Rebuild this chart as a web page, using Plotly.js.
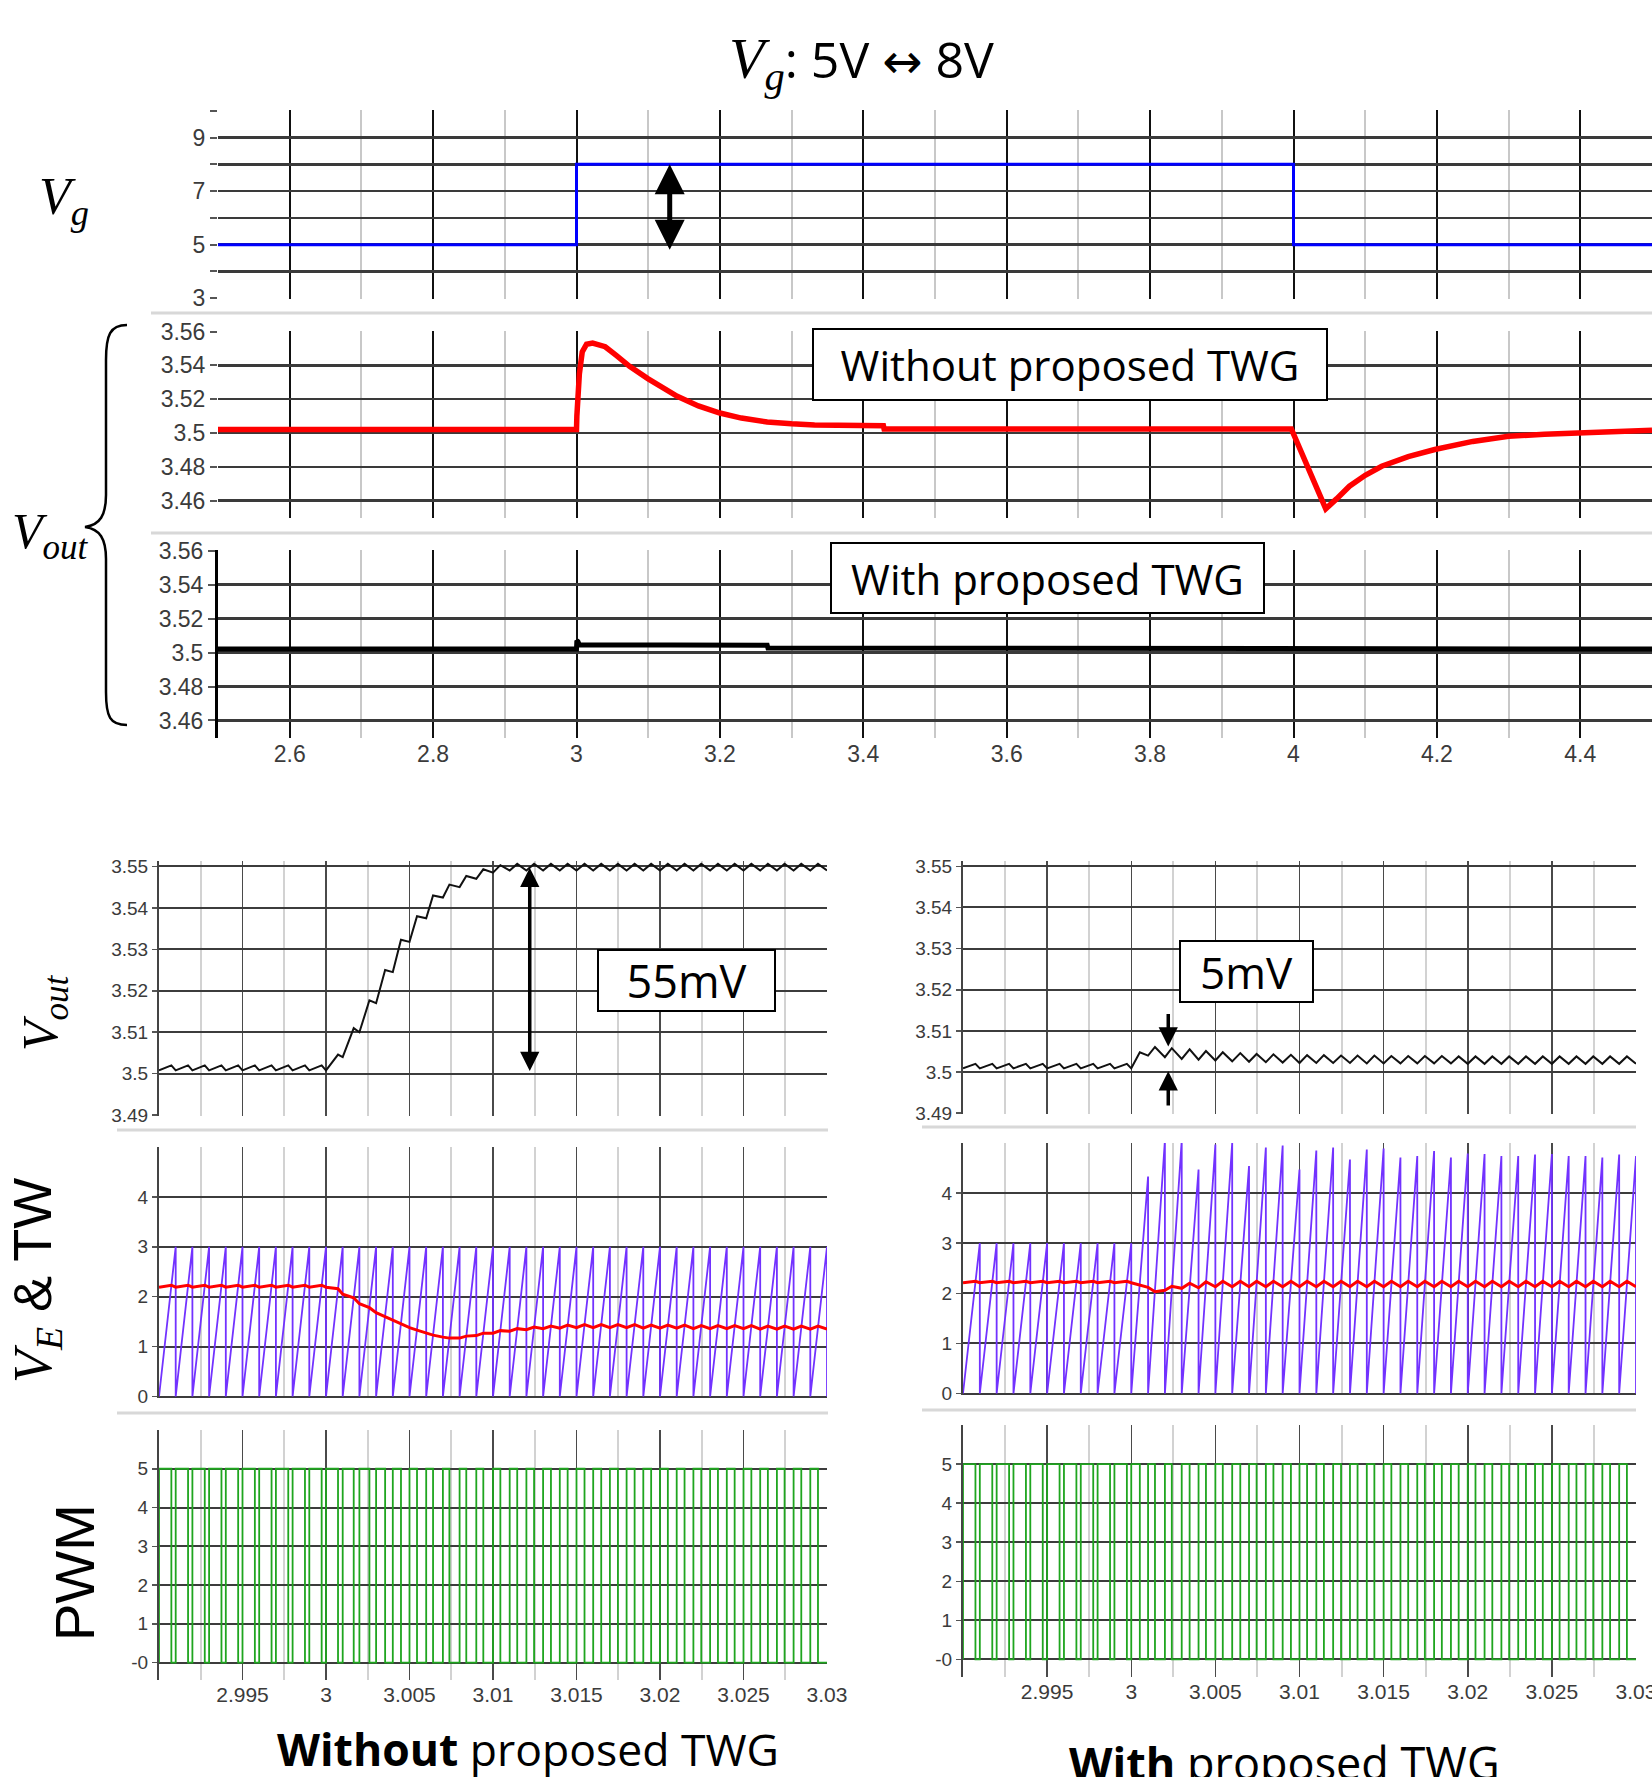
<!DOCTYPE html>
<html><head><meta charset="utf-8">
<script src="https://cdn.plot.ly/plotly-3.0.1.min.js"></script>
<style>html,body{margin:0;padding:0;background:#fff}#chart{width:1652px;height:1777px}</style>
</head><body><div id="chart"></div>
<script>
// ---------------- DATA ----------------
// Top: input voltage step
const vgT = [2.5, 3.0, 3.0, 4.0, 4.0, 4.5];
const vgV = [5, 5, 8, 8, 5, 5];
// Top: Vout without proposed TWG
const voutNoT = [2.5, 3.0, 3.0005, 3.004, 3.008, 3.014, 3.0225, 3.04, 3.055, 3.074, 3.10, 3.1405, 3.17, 3.2, 3.23, 3.266, 3.30, 3.332, 3.428, 3.429, 3.997, 4.045, 4.06, 4.078, 4.10, 4.123, 4.16, 4.197, 4.25, 4.30, 4.35, 4.396, 4.492, 4.5];
const voutNoV = [3.502, 3.502, 3.510, 3.535, 3.548, 3.5525, 3.5532, 3.551, 3.546, 3.5394, 3.532, 3.5217, 3.516, 3.5118, 3.5088, 3.5065, 3.5054, 3.5047, 3.5043, 3.5024, 3.5024, 3.4551, 3.461, 3.4685, 3.475, 3.4803, 3.486, 3.4902, 3.495, 3.498, 3.4993, 3.500, 3.5016, 3.5016];
// Top: Vout with proposed TWG
const voutTwgT = [2.5, 3.0, 3.0005, 3.002, 3.004, 3.266, 3.267, 3.997, 3.998, 4.5];
const voutTwgV = [3.502, 3.502, 3.507, 3.5065, 3.5045, 3.5042, 3.5027, 3.5027, 3.5020, 3.5020];

// Bottom: switching-cycle start times (s)
const cycleT = [2.990,2.991,2.992,2.993,2.994,2.995,2.996,2.997,2.998,2.999,3.000,3.001,3.002,3.003,3.004,3.005,3.006,3.007,3.008,3.009,3.010,3.011,3.012,3.013,3.014,3.015,3.016,3.017,3.018,3.019,3.020,3.021,3.022,3.023,3.024,3.025,3.026,3.027,3.028,3.029,3.030];

// Left column (without proposed TWG), one value per switching cycle
const twPeakL = [3,3,3,3,3,3,3,3,3,3, 3,3,3,3,3,3,3,3,3,3, 3,3,3,3,3,3,3,3,3,3, 3,3,3,3,3,3,3,3,3,3];
const veStartL = [2.19,2.19,2.19,2.19,2.19,2.19,2.19,2.19,2.19,2.19, 2.19,2.05,1.86,1.68,1.52,1.38,1.27,1.19,1.17,1.22, 1.27,1.31,1.34,1.36,1.37,1.38,1.38,1.38,1.38,1.37, 1.37,1.37,1.36,1.36,1.36,1.36,1.35,1.35,1.35,1.35];
const veOnL = [2.23,2.23,2.23,2.23,2.23,2.23,2.23,2.23,2.23,2.23, 2.16,1.98,1.78,1.60,1.46,1.33,1.23,1.17,1.21,1.27, 1.32,1.36,1.39,1.41,1.43,1.44,1.44,1.44,1.44,1.43, 1.43,1.43,1.42,1.42,1.42,1.42,1.41,1.41,1.41,1.41];
const dutyL = [0.74,0.74,0.74,0.74,0.74,0.74,0.74,0.74,0.74,0.74, 0.72,0.66,0.60,0.54,0.49,0.45,0.41,0.39,0.40,0.42, 0.44,0.45,0.46,0.47,0.47,0.48,0.48,0.48,0.48,0.47, 0.47,0.47,0.47,0.47,0.47,0.47,0.46,0.46,0.46,0.46];
const voutMinL = [3.5008,3.5008,3.5008,3.5008,3.5008,3.5008,3.5008,3.5008,3.5008,3.5008, 3.5008,3.5040,3.5100,3.5170,3.5245,3.5318,3.5375,3.5425,3.5450,3.5470, 3.5485,3.5490,3.5490,3.5490,3.5490,3.5490,3.5490,3.5490,3.5490,3.5490, 3.5490,3.5490,3.5490,3.5490,3.5490,3.5490,3.5490,3.5490,3.5490,3.5490];
const voutMaxL = [3.5020,3.5020,3.5020,3.5020,3.5020,3.5020,3.5020,3.5020,3.5020,3.5020, 3.5046,3.5110,3.5177,3.5250,3.5323,3.5380,3.5430,3.5456,3.5477,3.5493, 3.5503,3.5506,3.5506,3.5506,3.5506,3.5506,3.5506,3.5506,3.5506,3.5506, 3.5506,3.5506,3.5506,3.5506,3.5506,3.5506,3.5506,3.5506,3.5506,3.5506];

// Right column (with proposed TWG)
const twPeakR = [3,3,3,3,3,3,3,3,3,3, 4.33,5.05,5.05,4.47,4.97,5.0,4.54,4.91,4.95,4.47, 4.85,4.91,4.67,4.87,4.89,4.71,4.74,4.84,4.71,4.79, 4.78,4.74,4.74,4.77,4.78,4.74,4.74,4.71,4.77,4.74];
const veStartR = [2.21,2.21,2.21,2.21,2.21,2.21,2.21,2.21,2.21,2.21, 2.21,2.12,2.06,2.10,2.11,2.13,2.13,2.13,2.13,2.13, 2.13,2.13,2.13,2.13,2.13,2.13,2.13,2.13,2.13,2.13, 2.13,2.13,2.13,2.13,2.13,2.13,2.13,2.13,2.13,2.13];
const veOnR = [2.24,2.24,2.24,2.24,2.24,2.24,2.24,2.24,2.24,2.24, 2.17,2.03,2.14,2.20,2.23,2.24,2.24,2.24,2.24,2.24, 2.24,2.24,2.24,2.24,2.24,2.24,2.24,2.24,2.24,2.24, 2.24,2.24,2.24,2.24,2.24,2.24,2.24,2.24,2.24,2.24];
const dutyR = [0.74,0.74,0.74,0.74,0.74,0.74,0.74,0.74,0.74,0.74, 0.51,0.41,0.41,0.47,0.44,0.44,0.48,0.45,0.45,0.49, 0.45,0.45,0.47,0.45,0.45,0.46,0.46,0.45,0.46,0.46, 0.46,0.46,0.46,0.46,0.46,0.46,0.46,0.46,0.46,0.46];
const voutMinR = [3.5009,3.5009,3.5009,3.5009,3.5009,3.5009,3.5009,3.5009,3.5009,3.5009, 3.5009,3.5040,3.5036,3.5032,3.5030,3.5028,3.5026,3.5025,3.5024,3.5023, 3.5022,3.5022,3.5022,3.5022,3.5021,3.5021,3.5021,3.5021,3.5021,3.5021, 3.5020,3.5020,3.5020,3.5020,3.5020,3.5020,3.5020,3.5020,3.5020,3.5020];
const voutMaxR = [3.5020,3.5020,3.5020,3.5020,3.5020,3.5020,3.5020,3.5020,3.5020,3.5020, 3.5048,3.5061,3.5058,3.5055,3.5051,3.5048,3.5046,3.5044,3.5043,3.5042, 3.5041,3.5041,3.5040,3.5040,3.5040,3.5039,3.5039,3.5039,3.5039,3.5038, 3.5038,3.5038,3.5038,3.5038,3.5038,3.5038,3.5038,3.5038,3.5038,3.5038];

// Tick labels
const topXTicks = [2.6, 2.8, 3.0, 3.2, 3.4, 3.6, 3.8, 4.0, 4.2, 4.4];
const topXText = ['2.6','2.8','3','3.2','3.4','3.6','3.8','4','4.2','4.4'];
const topXMinor = [2.5, 2.7, 2.9, 3.1, 3.3, 3.5, 3.7, 3.9, 4.1, 4.3, 4.5];
const vgYTicks = [3,4,5,6,7,8,9,10];
const vgYText = ['3','','5','','7','','9',''];
const voutYTicks = [3.46, 3.48, 3.50, 3.52, 3.54, 3.56];
const voutYText = ['3.46','3.48','3.5','3.52','3.54','3.56'];
const botXTicks = [2.99, 2.995, 3.0, 3.005, 3.01, 3.015, 3.02, 3.025, 3.03];
const botXText = ['', '2.995', '3', '3.005', '3.01', '3.015', '3.02', '3.025', '3.03'];
const botXMinor = [2.9925, 2.9975, 3.0025, 3.0075, 3.0125, 3.0175, 3.0225, 3.0275];
const zVoutTicks = [3.49, 3.50, 3.51, 3.52, 3.53, 3.54, 3.55];
const zVoutText = ['3.49','3.5','3.51','3.52','3.53','3.54','3.55'];
const veTicks = [0,1,2,3,4];
const veText = ['0','1','2','3','4'];
const pwmTicks = [0,1,2,3,4,5];
const pwmText = ['-0','1','2','3','4','5'];

// ---------------- BUILD ----------------
const W = 1652, H = 1777;
const X = px => px / W, Y = py => 1 - py / H;

function onEnd(k, duty){ return cycleT[k] + duty[k] * (cycleT[k+1] - cycleT[k]); }
function sawtooth(peaks){
  const x = [], y = [];
  for (let k = 0; k < peaks.length; k++){ x.push(cycleT[k], cycleT[k+1], cycleT[k+1]); y.push(0, peaks[k], 0); }
  return {x, y};
}
function pwm(duty){
  const x = [], y = [];
  for (let k = 0; k < duty.length; k++){ const t = onEnd(k, duty); x.push(cycleT[k], cycleT[k], t, t); y.push(0, 5, 5, 0); }
  x.push(cycleT[duty.length]); y.push(0);
  return {x, y};
}
function twoPoint(a, b, duty){
  const x = [], y = [];
  for (let k = 0; k < a.length; k++){ x.push(cycleT[k], onEnd(k, duty)); y.push(a[k], b[k]); }
  x.push(cycleT[a.length]); y.push(a[a.length-1]);
  return {x, y};
}

const TF_TOP = {family:'Liberation Sans, Arial, sans-serif', size:23, color:'#3b3b3b'};
const TF_BOT = {family:'Liberation Sans Narrow, Liberation Sans, Arial, sans-serif', size:19, color:'#3b3b3b'};
const TF_BOTX = {family:'Liberation Sans Narrow, Liberation Sans, Arial, sans-serif', size:21, color:'#3b3b3b'};

function topX(anchor, labels){
  return {domain:[X(218),1], range:[2.5,4.5], anchor, tickmode:'array', tickvals:topXTicks, ticktext:topXText,
    showticklabels:labels, ticks:'', showgrid:true, gridcolor:'#111', gridwidth:2, zeroline:false, showline:false,
    tickfont:TF_TOP, fixedrange:true, ticklabeloverflow:'allow',
    minor:{tickmode:'array', tickvals:topXMinor, showgrid:true, gridcolor:'#c8c8c8', gridwidth:2, ticks:''}};
}
function topY(dom, anchor, rng, vals, text, line){
  return {domain:dom, range:rng, anchor, tickmode:'array', tickvals:vals, ticktext:text, ticks:'outside', ticklen:7,
    tickwidth:2, tickcolor:'#555', showgrid:true, gridcolor:'#3a3a3a', gridwidth:2.5, zeroline:false,
    showline:line, linecolor:'#000', linewidth:3, tickfont:TF_TOP, fixedrange:true};
}
function botX(dom, anchor, labels){
  return {domain:dom, range:[2.99,3.03], anchor, tickmode:'array', tickvals:botXTicks, ticktext:botXText,
    showticklabels:labels, ticks:'', showgrid:true, gridcolor:'#4a4a4a', gridwidth:1.5, zeroline:false, showline:false,
    tickfont:TF_BOTX, fixedrange:true, ticklabeloverflow:'allow',
    minor:{tickmode:'array', tickvals:botXMinor, showgrid:true, gridcolor:'#d2d2d2', gridwidth:2, ticks:''}};
}
function botY(dom, anchor, rng, vals, text){
  return {domain:dom, range:rng, anchor, tickmode:'array', tickvals:vals, ticktext:text, ticks:'outside', ticklen:5,
    tickwidth:1.5, tickcolor:'#555', showgrid:true, gridcolor:'#3c3c3c', gridwidth:2, zeroline:false,
    showline:true, linecolor:'#444', linewidth:2, tickfont:TF_BOT, fixedrange:true};
}

const LX = [X(159), X(827)], RX = [X(963), X(1636)];
const layout = {
  width:W, height:H, margin:{l:0,r:0,t:0,b:0}, paper_bgcolor:'#fff', plot_bgcolor:'#fff', showlegend:false,
  xaxis: topX('y', false), yaxis: topY([Y(299), Y(110)], 'x', [2.97,10.03], vgYTicks, vgYText, false),
  xaxis2: topX('y2', false), yaxis2: topY([Y(518), Y(331)], 'x2', [3.4497,3.5603], voutYTicks, voutYText, false),
  xaxis3: topX('y3', true), yaxis3: topY([Y(738), Y(550)], 'x3', [3.4497,3.5603], voutYTicks, voutYText, true),
  xaxis4: botX(LX, 'y4', false), yaxis4: botY([Y(1116), Y(861)], 'x4', [3.4898,3.5513], zVoutTicks, zVoutText),
  xaxis5: botX(LX, 'y5', false), yaxis5: botY([Y(1398), Y(1147)], 'x5', [-0.03,5], veTicks, veText),
  xaxis6: botX(LX, 'y6', true), yaxis6: botY([Y(1680), Y(1430)], 'x6', [-0.45,6], pwmTicks, pwmText),
  xaxis7: botX(RX, 'y7', false), yaxis7: botY([Y(1114), Y(861)], 'x7', [3.4898,3.5513], zVoutTicks, zVoutText),
  xaxis8: botX(RX, 'y8', false), yaxis8: botY([Y(1395), Y(1143)], 'x8', [-0.03,5], veTicks, veText),
  xaxis9: botX(RX, 'y9', true), yaxis9: botY([Y(1677), Y(1425)], 'x9', [-0.45,6], pwmTicks, pwmText),
};

const line = (x, y, xa, ya, color, width) => ({x, y, xaxis:xa, yaxis:ya, type:'scatter', mode:'lines', hoverinfo:'skip', line:{color, width}});
const PURPLE = '#7232ff', GREEN = '#1fa51f';
const twL = sawtooth(twPeakL), twR = sawtooth(twPeakR);
const pwmL = pwm(dutyL), pwmR = pwm(dutyR);
const veL = twoPoint(veStartL, veOnL, dutyL), veR = twoPoint(veStartR, veOnR, dutyR);
const voL = twoPoint(voutMinL, voutMaxL, dutyL), voR = twoPoint(voutMinR, voutMaxR, dutyR);

const data = [
  line(vgT, vgV, 'x', 'y', '#0000ff', 3),
  line(voutNoT, voutNoV, 'x2', 'y2', '#ff0000', 5.5),
  line(voutTwgT, voutTwgV, 'x3', 'y3', '#000', 5),
  line(voL.x, voL.y, 'x4', 'y4', '#111', 2),
  line(twL.x, twL.y, 'x5', 'y5', PURPLE, 1.8),
  line(veL.x, veL.y, 'x5', 'y5', '#ff0000', 3),
  line(pwmL.x, pwmL.y, 'x6', 'y6', GREEN, 1.8),
  line(voR.x, voR.y, 'x7', 'y7', '#111', 2),
  line(twR.x, twR.y, 'x8', 'y8', PURPLE, 1.8),
  line(veR.x, veR.y, 'x8', 'y8', '#ff0000', 3),
  line(pwmR.x, pwmR.y, 'x9', 'y9', GREEN, 1.8),
];

// separators and brace
const sep = (x0, x1, y) => ({type:'line', xref:'paper', yref:'paper', x0:X(x0), x1:X(x1), y0:Y(y), y1:Y(y), line:{color:'#d8d8d8', width:3}});
const P = (x, y) => X(x) + ',' + Y(y);
const bracePath = 'M' + P(127,325) + ' C' + P(110,325) + ' ' + P(106,335) + ' ' + P(106,360) +
  ' L' + P(106,495) + ' C' + P(106,515) + ' ' + P(100,525) + ' ' + P(85,527) +
  ' C' + P(100,529) + ' ' + P(106,539) + ' ' + P(106,559) +
  ' L' + P(106,692) + ' C' + P(106,717) + ' ' + P(110,725) + ' ' + P(127,725);
layout.shapes = [
  sep(151, 1652, 313), sep(151, 1652, 533),
  sep(117, 828, 1130), sep(117, 828, 1413),
  sep(922, 1636, 1127), sep(922, 1636, 1410),
  {type:'path', xref:'paper', yref:'paper', path:bracePath, line:{color:'#000', width:2.5}},
];

const SERIF = 'font-family:Liberation Serif, DejaVu Serif, serif;font-style:italic';
const SANS = 'Open Sans, Noto Sans, sans-serif';
const txt = (px, py, text, size, extra) => Object.assign({xref:'paper', yref:'paper', x:X(px), y:Y(py), text,
  showarrow:false, xanchor:'center', yanchor:'middle', font:{family:SANS, size, color:'#000'}}, extra || {});
const box = (px, py, w, h, text, size) => txt(px, py, text, size, {width:w, height:h, bgcolor:'#fff',
  bordercolor:'#000', borderwidth:2, borderpad:0, align:'center', valign:'middle'});
const arrow = (xa, ya, x, y, ax, ay, both, w, s) => ({xref:xa, yref:ya, axref:xa, ayref:ya, x, y, ax, ay, text:'',
  showarrow:true, arrowhead:2, arrowside: both ? 'end+start' : 'end', arrowwidth:w, arrowsize:s, arrowcolor:'#000',
  standoff:0, startstandoff:0});

layout.annotations = [
  txt(861, 62, '<span style="' + SERIF + ';font-size:58px">V<sub>g</sub></span>: 5V <span style="font-family:DejaVu Sans;font-size:48px">↔</span> 8V', 50),
  txt(64, 200, '<span style="' + SERIF + '">V<sub>g</sub></span>', 52),
  txt(50, 535, '<span style="' + SERIF + '">V<sub>out</sub></span>', 50),
  box(1070, 364.5, 512, 69, 'Without proposed TWG', 42),
  box(1047.5, 578, 431, 68, 'With proposed TWG', 42),
  box(686.5, 980.5, 175, 59, '55mV', 45),
  box(1246.5, 971.5, 131, 59, '5mV', 44),
  txt(44, 1013, '<span style="' + SERIF + '">V<sub>out</sub></span>', 50, {textangle:-90}),
  txt(36, 1281, '<span style="' + SERIF + '">V<sub>E</sub></span> &amp; TW', 54, {textangle:-90, font:{family:'Liberation Sans, Arial, sans-serif', size:54, color:'#000'}}),
  txt(74, 1573, 'PWM', 56, {textangle:-90, font:{family:'Liberation Sans, Arial, sans-serif', size:56, color:'#000'}}),
  txt(528, 1748, '<b>Without</b> proposed TWG', 44.5),
  txt(1284, 1762, '<b>With</b> proposed TWG', 45),
  arrow('x', 'y', 3.13, 8.0, 3.13, 4.75, true, 5, 1.2),
  arrow('x4', 'y4', 3.0122, 3.5497, 3.0122, 3.5003, true, 3.5, 1.1),
  arrow('x7', 'y7', 3.0022, 3.5062, 3.0022, 3.5145, false, 3.5, 1.1),
  arrow('x7', 'y7', 3.0022, 3.5002, 3.0022, 3.4915, false, 3.5, 1.1),
];

Plotly.newPlot('chart', data, layout, {staticPlot:true, displayModeBar:false});
</script></body></html>
